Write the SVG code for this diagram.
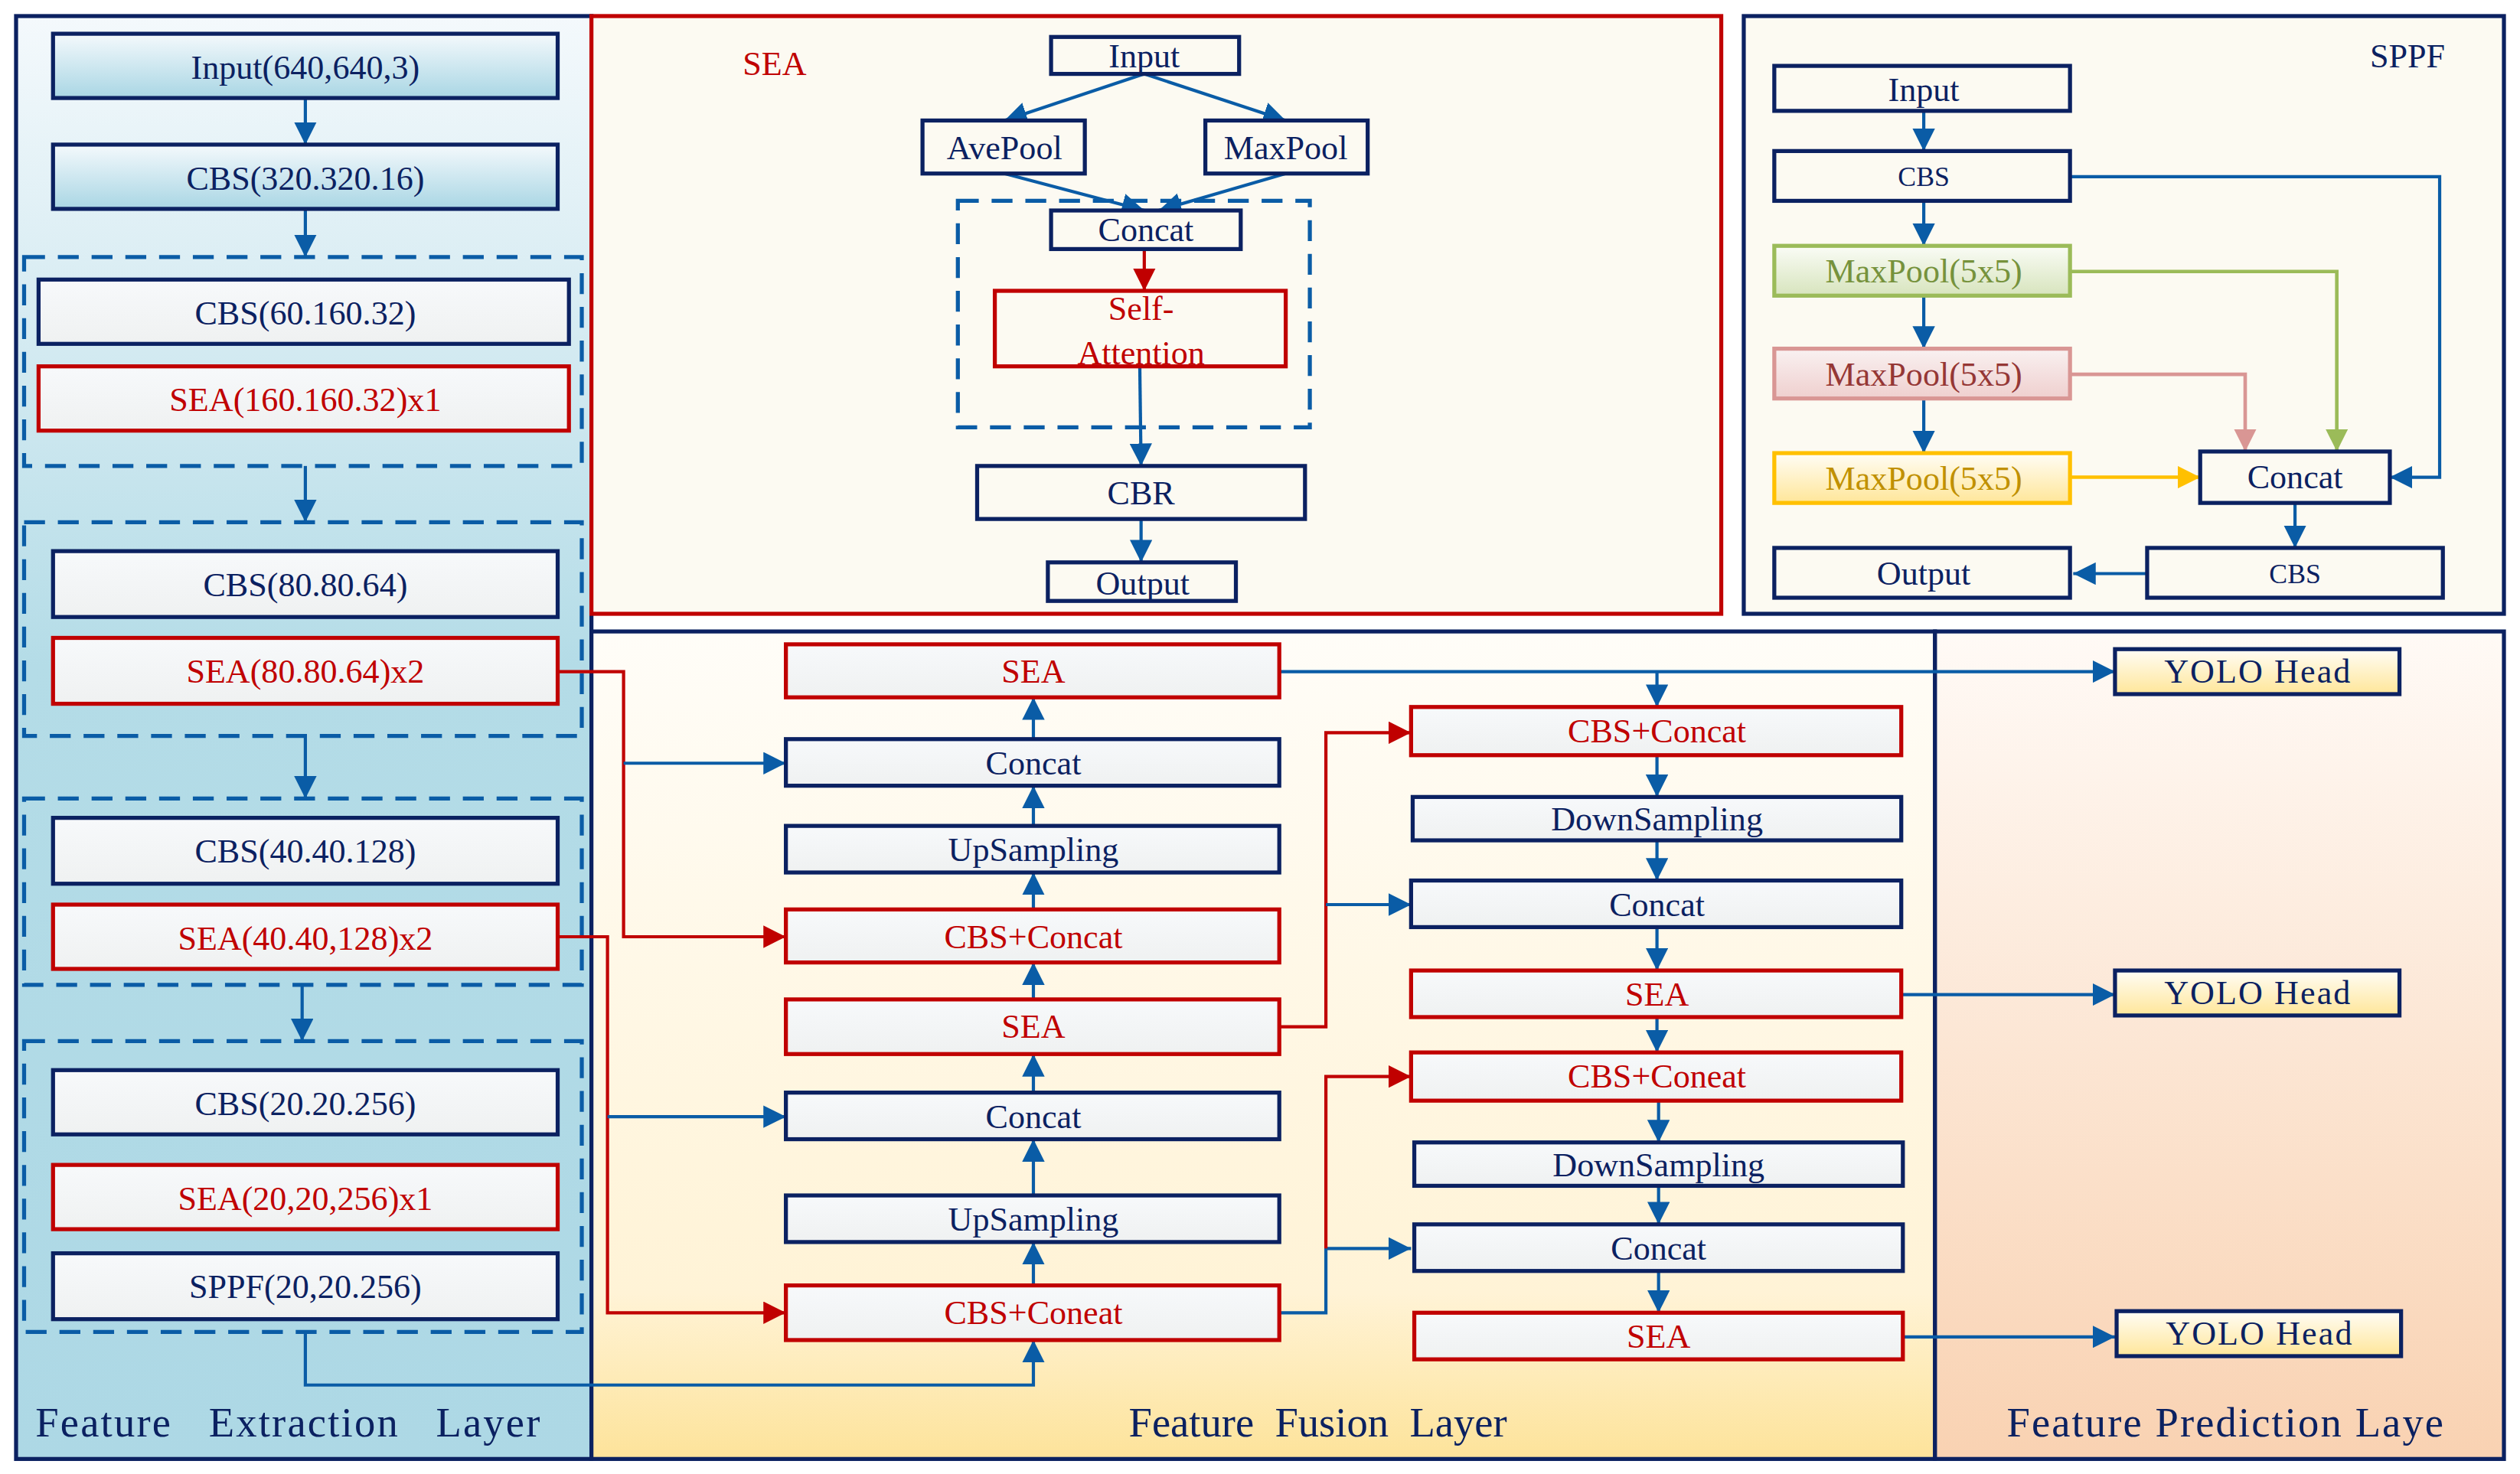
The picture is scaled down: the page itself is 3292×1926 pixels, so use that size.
<svg xmlns="http://www.w3.org/2000/svg" width="3292" height="1926" viewBox="0 0 3292 1926">
<defs>
<linearGradient id="gLeft" x1="0" y1="0" x2="0" y2="1"><stop offset="0" stop-color="#f4f9fc"/><stop offset="0.45" stop-color="#b4dce7"/><stop offset="1" stop-color="#add8e5"/></linearGradient>
<linearGradient id="gFuse" x1="0" y1="0" x2="0" y2="1"><stop offset="0" stop-color="#fffdf8"/><stop offset="0.8" stop-color="#fff3d6"/><stop offset="1" stop-color="#fde39a"/></linearGradient>
<linearGradient id="gPred" x1="0" y1="0" x2="0" y2="1"><stop offset="0" stop-color="#fffaf6"/><stop offset="1" stop-color="#f9d2b2"/></linearGradient>
<linearGradient id="gNode" x1="0" y1="0" x2="0" y2="1"><stop offset="0" stop-color="#f7f9fb"/><stop offset="1" stop-color="#eff1f1"/></linearGradient>
<linearGradient id="gBlue" x1="0" y1="0" x2="0" y2="1"><stop offset="0" stop-color="#f4f9fc"/><stop offset="1" stop-color="#a9d6e4"/></linearGradient>
<linearGradient id="gGreen" x1="0" y1="0" x2="0" y2="1"><stop offset="0" stop-color="#fafcf6"/><stop offset="1" stop-color="#d7e4bd"/></linearGradient>
<linearGradient id="gPink" x1="0" y1="0" x2="0" y2="1"><stop offset="0" stop-color="#f9f1f1"/><stop offset="1" stop-color="#efcfce"/></linearGradient>
<linearGradient id="gYel" x1="0" y1="0" x2="0" y2="1"><stop offset="0" stop-color="#fffdf6"/><stop offset="1" stop-color="#ffe699"/></linearGradient>
<marker id="aB" viewBox="0 0 10 10" refX="10" refY="5" markerWidth="14" markerHeight="14" markerUnits="userSpaceOnUse" orient="auto"><path d="M0,0L10,5L0,10z" fill="#0a5ca6"/></marker>
<marker id="aR" viewBox="0 0 10 10" refX="10" refY="5" markerWidth="14" markerHeight="14" markerUnits="userSpaceOnUse" orient="auto"><path d="M0,0L10,5L0,10z" fill="#c00000"/></marker>
<marker id="aG" viewBox="0 0 10 10" refX="10" refY="5" markerWidth="14" markerHeight="14" markerUnits="userSpaceOnUse" orient="auto"><path d="M0,0L10,5L0,10z" fill="#9bbb59"/></marker>
<marker id="aP" viewBox="0 0 10 10" refX="10" refY="5" markerWidth="14" markerHeight="14" markerUnits="userSpaceOnUse" orient="auto"><path d="M0,0L10,5L0,10z" fill="#d99694"/></marker>
<marker id="aY" viewBox="0 0 10 10" refX="10" refY="5" markerWidth="14" markerHeight="14" markerUnits="userSpaceOnUse" orient="auto"><path d="M0,0L10,5L0,10z" fill="#ffc000"/></marker>
</defs>
<style>
text{font-family:"Liberation Serif","Times New Roman",serif;text-anchor:middle;dominant-baseline:central;font-size:21px;fill:#0b2161}
.r text,text.r{fill:#c00000}
.n rect{fill:url(#gNode);stroke:#0b2161;stroke-width:2.5}
.r rect{fill:url(#gNode);stroke:#c00000;stroke-width:2.5}
.w rect{fill:#fcfaf2;stroke:#0b2161;stroke-width:2.5}
.dash{fill:none;stroke:#0a5ca6;stroke-width:2.5;stroke-dasharray:13,8}
.cb{fill:none;stroke:#0a5ca6;stroke-width:2;marker-end:url(#aB)}
.cr{fill:none;stroke:#c00000;stroke-width:2;marker-end:url(#aR)}
.lbl{font-size:26px}
</style>
<g transform="scale(2.0995)">
<g id="panels">
<rect x="10" y="10" width="358" height="898" fill="url(#gLeft)" stroke="#0b2161" stroke-width="2.5"/>
<rect x="368" y="393" width="836" height="515" fill="url(#gFuse)" stroke="#0b2161" stroke-width="2.5"/>
<rect x="1204" y="393" width="354" height="515" fill="url(#gPred)" stroke="#0b2161" stroke-width="2.5"/>
<rect x="368" y="10" width="703" height="372" fill="#fcfaf2" stroke="#c00000" stroke-width="2.5"/>
<rect x="1085" y="10" width="473" height="372" fill="#fcfaf2" stroke="#0b2161" stroke-width="2.5"/>
<text class="lbl" x="22" y="885" style="text-anchor:start" textLength="314" xml:space="preserve">Feature   Extraction   Layer</text>
<text class="lbl" x="820" y="885" xml:space="preserve">Feature  Fusion  Layer</text>
<text class="lbl" x="1385" y="885" style="letter-spacing:1px">Feature Prediction Laye</text>
<text class="r" x="482" y="40">SEA</text>
<text x="1498" y="35">SPPF</text>
<rect class="dash" x="15" y="160" width="347" height="130"/>
<rect class="dash" x="15" y="325" width="347" height="133"/>
<rect class="dash" x="15" y="497" width="347" height="116"/>
<rect class="dash" x="15" y="648" width="347" height="181"/>
<rect class="dash" x="596" y="125" width="219" height="141"/>
</g>
<g id="connectors">
<path class="cb" d="M190,61V90"/><path class="cb" d="M190,130V160"/><path class="cb" d="M190,290V325"/>
<path class="cb" d="M190,458V497"/><path class="cb" d="M188,613V648"/>
<path class="cb" d="M712,46L625,75"/><path class="cb" d="M712,46L800,75"/>
<path class="cb" d="M625,108L712,131"/><path class="cb" d="M800,108L721,131"/>
<path class="cr" d="M712,155V181"/><path class="cb" d="M709,213L710,290"/><path class="cb" d="M710,323V350"/>
<path class="cb" d="M1197,60V94"/><path class="cb" d="M1197,125V153"/><path class="cb" d="M1197,184V217"/><path class="cb" d="M1197,248V282"/>
<path class="cb" d="M1288,110H1518V297H1487"/>
<path d="M1288,169H1454V281" fill="none" stroke="#9bbb59" stroke-width="2.2" marker-end="url(#aG)"/>
<path d="M1288,233H1397V281" fill="none" stroke="#d99694" stroke-width="2.2" marker-end="url(#aP)"/>
<path d="M1288,297H1369" fill="none" stroke="#ffc000" stroke-width="2.2" marker-end="url(#aY)"/>
<path class="cb" d="M1428,313V341"/><path class="cb" d="M1336,357H1290"/>
<path class="cr" d="M347,418H388V583H489"/><path class="cb" d="M388,475H489"/>
<path class="cr" d="M347,583H378V817H489"/><path class="cb" d="M378,695H489"/>
<path class="cb" d="M190,829V862H643V834"/>
<path class="cb" d="M643,800V773"/><path class="cb" d="M643,744V709"/><path class="cb" d="M643,680V656"/>
<path class="cb" d="M643,622V599"/><path class="cb" d="M643,566V543"/><path class="cb" d="M643,514V489"/><path class="cb" d="M643,460V434"/>
<path class="cb" d="M796,418H1316"/><path class="cb" d="M1031,418V440"/>
<path class="cb" d="M1031,470V496"/><path class="cb" d="M1031,523V548"/><path class="cb" d="M1031,577V604"/><path class="cb" d="M1031,633V655"/>
<path class="cb" d="M1032,685V711"/><path class="cb" d="M1032,738V762"/><path class="cb" d="M1032,791V817"/>
<path class="cr" d="M796,639H825V456H878"/><path class="cb" d="M825,563H878"/>
<path class="cb" d="M796,817H825V777H878"/><path class="cr" d="M825,777V670H878"/>
<path class="cb" d="M1183,619H1316"/><path class="cb" d="M1183,832H1316"/>
</g>
<g id="input" class="n"><rect x="33" y="21" width="314" height="40" style="fill:url(#gBlue)"/><text x="190" y="42">Input(640,640,3)</text></g>
<g id="cbs1" class="n"><rect x="33" y="90" width="314" height="40" style="fill:url(#gBlue)"/><text x="190" y="111">CBS(320.320.16)</text></g>
<g id="cbs2" class="n"><rect x="24" y="174" width="330" height="40"/><text x="190" y="195">CBS(60.160.32)</text></g>
<g id="sea1" class="r"><rect x="24" y="228" width="330" height="40"/><text x="190" y="249">SEA(160.160.32)x1</text></g>
<g id="cbs3" class="n"><rect x="33" y="343" width="314" height="41"/><text x="190" y="364">CBS(80.80.64)</text></g>
<g id="sea2" class="r"><rect x="33" y="397" width="314" height="41"/><text x="190" y="418">SEA(80.80.64)x2</text></g>
<g id="cbs4" class="n"><rect x="33" y="509" width="314" height="41"/><text x="190" y="530">CBS(40.40.128)</text></g>
<g id="sea3" class="r"><rect x="33" y="563" width="314" height="40"/><text x="190" y="584">SEA(40.40,128)x2</text></g>
<g id="cbs5" class="n"><rect x="33" y="666" width="314" height="40"/><text x="190" y="687">CBS(20.20.256)</text></g>
<g id="sea4" class="r"><rect x="33" y="725" width="314" height="40"/><text x="190" y="746">SEA(20,20,256)x1</text></g>
<g id="sppf" class="n"><rect x="33" y="780" width="314" height="41"/><text x="190" y="801">SPPF(20,20.256)</text></g>

<g id="sea_in" class="w"><rect x="654" y="23" width="117" height="23"/><text x="712" y="35">Input</text></g>
<g id="sea_ave" class="w"><rect x="574" y="75" width="101" height="33"/><text x="625" y="92">AvePool</text></g>
<g id="sea_max" class="w"><rect x="750" y="75" width="101" height="33"/><text x="800" y="92">MaxPool</text></g>
<g id="sea_cat" class="w"><rect x="654" y="131" width="118" height="24"/><text x="713" y="143">Concat</text></g>
<g id="sea_att"><rect x="619" y="181" width="181" height="47" fill="#fcfaf2" stroke="#c00000" stroke-width="2.5"/><text class="r" x="710" y="192">Self-</text><text class="r" x="710" y="220">Attention</text></g>
<g id="sea_cbr" class="w"><rect x="608" y="290" width="204" height="33"/><text x="710" y="307">CBR</text></g>
<g id="sea_out" class="w"><rect x="652" y="350" width="117" height="24"/><text x="711" y="363">Output</text></g>

<g id="sp_in" class="w"><rect x="1104" y="41" width="184" height="28"/><text x="1197" y="56">Input</text></g>
<g id="sp_cbs" class="w"><rect x="1104" y="94" width="184" height="31"/><text x="1197" y="110" style="font-size:17px">CBS</text></g>
<g id="sp_m1"><rect x="1104" y="153" width="184" height="31" fill="url(#gGreen)" stroke="#9bbb59" stroke-width="2.5"/><text x="1197" y="169" style="fill:#76923c">MaxPool(5x5)</text></g>
<g id="sp_m2"><rect x="1104" y="217" width="184" height="31" fill="url(#gPink)" stroke="#d99694" stroke-width="2.5"/><text x="1197" y="233" style="fill:#953735">MaxPool(5x5)</text></g>
<g id="sp_m3"><rect x="1104" y="282" width="184" height="31" fill="url(#gYel)" stroke="#ffc000" stroke-width="2.5"/><text x="1197" y="298" style="fill:#c09000">MaxPool(5x5)</text></g>
<g id="sp_cat" class="w"><rect x="1369" y="281" width="118" height="32"/><text x="1428" y="297">Concat</text></g>
<g id="sp_cbs2" class="w"><rect x="1336" y="341" width="184" height="31"/><text x="1428" y="357" style="font-size:17px">CBS</text></g>
<g id="sp_out" class="w"><rect x="1104" y="341" width="184" height="31"/><text x="1197" y="357">Output</text></g>

<g id="f_sea1" class="r"><rect x="489" y="401" width="307" height="33"/><text x="643" y="418">SEA</text></g>
<g id="f_cat1" class="n"><rect x="489" y="460" width="307" height="29"/><text x="643" y="475">Concat</text></g>
<g id="f_up1" class="n"><rect x="489" y="514" width="307" height="29"/><text x="643" y="529">UpSampling</text></g>
<g id="f_cc1" class="r"><rect x="489" y="566" width="307" height="33"/><text x="643" y="583">CBS+Concat</text></g>
<g id="f_sea2" class="r"><rect x="489" y="622" width="307" height="34"/><text x="643" y="639">SEA</text></g>
<g id="f_cat2" class="n"><rect x="489" y="680" width="307" height="29"/><text x="643" y="695">Concat</text></g>
<g id="f_up2" class="n"><rect x="489" y="744" width="307" height="29"/><text x="643" y="759">UpSampling</text></g>
<g id="f_cc2" class="r"><rect x="489" y="800" width="307" height="34"/><text x="643" y="817">CBS+Coneat</text></g>

<g id="g_cc1" class="r"><rect x="878" y="440" width="305" height="30"/><text x="1031" y="455">CBS+Concat</text></g>
<g id="g_dn1" class="n"><rect x="879" y="496" width="304" height="27"/><text x="1031" y="510">DownSampling</text></g>
<g id="g_cat1" class="n"><rect x="878" y="548" width="305" height="29"/><text x="1031" y="563">Concat</text></g>
<g id="g_sea1" class="r"><rect x="878" y="604" width="305" height="29"/><text x="1031" y="619">SEA</text></g>
<g id="g_cc2" class="r"><rect x="878" y="655" width="305" height="30"/><text x="1031" y="670">CBS+Coneat</text></g>
<g id="g_dn2" class="n"><rect x="880" y="711" width="304" height="27"/><text x="1032" y="725">DownSampling</text></g>
<g id="g_cat2" class="n"><rect x="880" y="762" width="304" height="29"/><text x="1032" y="777">Concat</text></g>
<g id="g_sea2" class="r"><rect x="880" y="817" width="304" height="29"/><text x="1032" y="832">SEA</text></g>

<g id="yolo1"><rect x="1316" y="404" width="177" height="28" fill="url(#gYel)" stroke="#0b2161" stroke-width="2.5"/><text x="1405" y="418" style="letter-spacing:1px">YOLO Head</text></g>
<g id="yolo2"><rect x="1316" y="604" width="177" height="28" fill="url(#gYel)" stroke="#0b2161" stroke-width="2.5"/><text x="1405" y="618" style="letter-spacing:1px">YOLO Head</text></g>
<g id="yolo3"><rect x="1317" y="816" width="177" height="28" fill="url(#gYel)" stroke="#0b2161" stroke-width="2.5"/><text x="1406" y="830" style="letter-spacing:1px">YOLO Head</text></g>
</g>
</svg>
